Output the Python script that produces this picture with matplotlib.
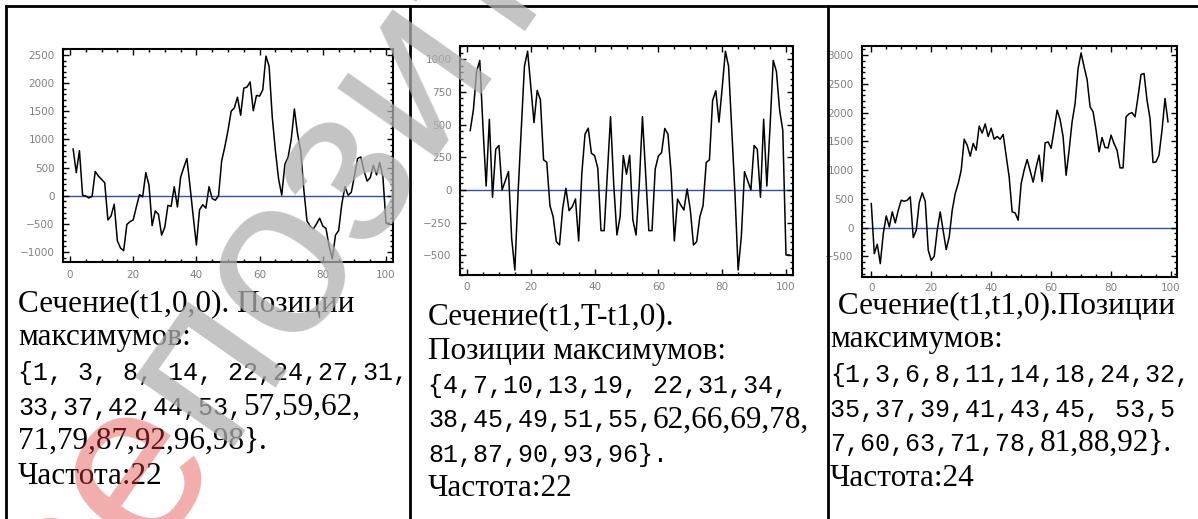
import numpy as np
import matplotlib
matplotlib.use("Agg")
import matplotlib.pyplot as plt
from matplotlib.ticker import MultipleLocator

# сечения, значения по точкам
sec1 = [830, 410, 800, 10, -5, -40, -10, 430, 350, 290,
        230, -430, -360, -150, -800, -930, -975, -510, -460, -430,
        -200, 20, -20, 410, 190, -530, -270, -330, -700, -560,
        -170, -190, 160, -200, 325, 500, 660, 160, -370, -875,
        -250, -160, -220, 160, -50, -80, 0, 620, 870, 1160,
        1500, 1560, 1750, 1430, 1910, 1930, 2020, 1510, 1780, 1770,
        1880, 2480, 2300, 1400, 800, 300, 10, 560, 680, 1000,
        1540, 1100, 800, 100, -450, -540, -590, -500, -400, -540,
        -580, -900, -1120, -700, -620, -150, 160, 10, 60, 350,
        660, 690, 450, 260, 320, 540, 370, 590, 340, -490, -490]

sec2 = [454, 612, 905, 990, 480, 30, 540, -56, 311, 340,
        0, 70, 140, -370, -612, -25, 460, 945, 1060, 790,
        515, 760, 690, 230, 212, -120, -204, -395, -420, -140,
        13, -158, -128, -69, -390, 128, 426, 472, 280, 263,
        166, -311, -311, 125, 560, 40, -344, -204, 263, 120,
        265, -230, -344, 40, 560, 125, -311, -311, 160, 260,
        285, 470, 426, 127, -390, -70, -115, -153, 8, -150,
        -420, -395, -204, -120, 210, 230, 684, 758, 518, 780,
        1060, 945, 460, -25, -612, -357, 140, 70, 0, 340,
        311, -56, 540, 30, 480, 990, 905, 612, 454, -497, -497]

sec3 = [418, -453, -290, -627, -104, 203, 12, 273, 81, 302,
        476, 458, 476, 534, -174, -46, 435, 604, 458, -394,
        -569, -499, -46, 273, -60, -383, -162, 302, 592, 766,
        1000, 1538, 1433, 1242, 1463, 1347, 1765, 1643, 1805, 1585,
        1730, 1538, 1585, 1538, 1620, 1250, 880, 273, 255, 128,
        766, 1000, 1184, 990, 790, 1050, 1260, 800, 1474, 1490,
        1380, 1700, 2043, 1880, 1580, 911, 1346, 1840, 2159, 2768,
        3041, 2797, 2577, 2101, 2014, 1695, 1317, 1567, 1393, 1387,
        1608, 1462, 1346, 1039, 1039, 1927, 1980, 2000, 1927, 2280,
        2664, 2681, 2217, 1898, 1132, 1143, 1260, 1695, 2246, 1840]

# подписи под графиками: (текст, шрифт) по строкам
caption1 = [[("Сечение(t1,0,0). Позиции", "s")],
            [("максимумов:", "s")],
            [("{1, 3, 8, 14, 22,24,27,31,", "m")],
            [("33,37,42,44,53,", "m"), ("57,59,62,", "s")],
            [("71,79,87,92,96,98}.", "s")],
            [("Частота:22", "s")]]
caption2 = [[("Сечение(t1,T-t1,0).", "s")],
            [("Позиции максимумов:", "s")],
            [("{4,7,10,13,19, 22,31,34,", "m")],
            [("38,45,49,51,55,", "m"), ("62,66,69,78,", "s")],
            [("81,87,90,93,96}.", "m")],
            [("Частота:22", "s")]]
caption3 = [[(" Сечение(t1,t1,0).Позиции", "s")],
            [("максимумов:", "s")],
            [("{1,3,6,8,11,14,18,24,32,", "m")],
            [("35,37,39,41,43,45, 53,5", "m")],
            [("7,60,63,71,78,", "m"), ("81,88,92}.", "s")],
            [("Частота:24", "s")]]

W, H = 1198, 519
fig = plt.figure(figsize=(W / 100, H / 100), dpi=100)
renderer = fig.canvas.get_renderer()


def px_axes(l, t, r, b):
    return fig.add_axes([l / W, 1 - b / H, (r - l) / W, (b - t) / H])


def panel(box, x, y, xlim, ylim, ymaj, ymin, xpad):
    ax = px_axes(*box)
    ax.axhline(0, color="#3550a5", lw=1.0, zorder=1)
    ax.plot(x, y, color="black", lw=1.1, zorder=2)
    ax.set_xlim(*xlim)
    ax.set_ylim(*ylim)
    ax.xaxis.set_major_locator(MultipleLocator(20))
    ax.xaxis.set_minor_locator(MultipleLocator(5))
    ax.yaxis.set_major_locator(MultipleLocator(ymaj))
    ax.yaxis.set_minor_locator(MultipleLocator(ymin))
    ax.tick_params(which="both", direction="in", top=True, right=True,
                   labelsize=7.5, labelcolor="#808080", width=1.0)
    ax.tick_params(which="major", length=4)
    ax.tick_params(which="minor", length=2)
    ax.tick_params(axis="y", pad=6)
    ax.tick_params(axis="x", pad=xpad)
    for s in ax.spines.values():
        s.set_linewidth(1.5)
    return ax


panel((63, 49, 393, 262), np.arange(1, len(sec1) + 1), sec1,
      (-2.2, 102.2), (-1177, 2606), 500, 100, 6)
panel((460, 46, 793, 275), np.arange(1, len(sec2) + 1), sec2,
      (-2.2, 102.2), (-650, 1100), 250, 50, 5)
panel((862, 46, 1177, 277), np.arange(len(sec3)), sec3,
      (-3.1, 102), (-860, 3160), 500, 100, 4)

# рамка таблицы
lw = 2.0
fig.add_artist(plt.Line2D([6 / W, 1], [1 - 6 / H] * 2, color="black", lw=lw))
for xv in (6, 410, 828):
    fig.add_artist(plt.Line2D([xv / W] * 2, [0, 1 - 6 / H], color="black", lw=lw))

fonts = {"s": ("Liberation Serif", 22.5), "m": ("Liberation Mono", 18)}


def caption(x0, y0, rows, step=34.5):
    for i, row in enumerate(rows):
        x = x0
        for s, key in row:
            fam, size = fonts[key]
            t = fig.text(x / W, 1 - (y0 + i * step) / H, s, family=fam,
                         fontsize=size, va="baseline", ha="left")
            x += t.get_window_extent(renderer).width


caption(18, 311, caption1)
caption(428, 324, caption2)
caption(830, 313, caption3)

# водяной знак по диагонали
wm_font = dict(family="Liberation Sans", fontsize=165)
deg = 55
ang = np.deg2rad(deg)
x0, y0 = 72, 656
tmp = fig.text(0, 0, "ре", **wm_font)
shift = tmp.get_window_extent(renderer).width
tmp.remove()
fig.text(x0 / W, 1 - y0 / H, "ре", color="#e03a3a", alpha=0.42,
         rotation=deg, rotation_mode="anchor", ha="left", va="baseline", **wm_font)
x1 = x0 + shift * np.cos(ang)
y1 = y0 - shift * np.sin(ang)
fig.text(x1 / W, 1 - y1 / H, "позит", color="#b0b0b0", alpha=0.75,
         rotation=deg, rotation_mode="anchor", ha="left", va="baseline", **wm_font)

fig.savefig("out.png", dpi=100)
